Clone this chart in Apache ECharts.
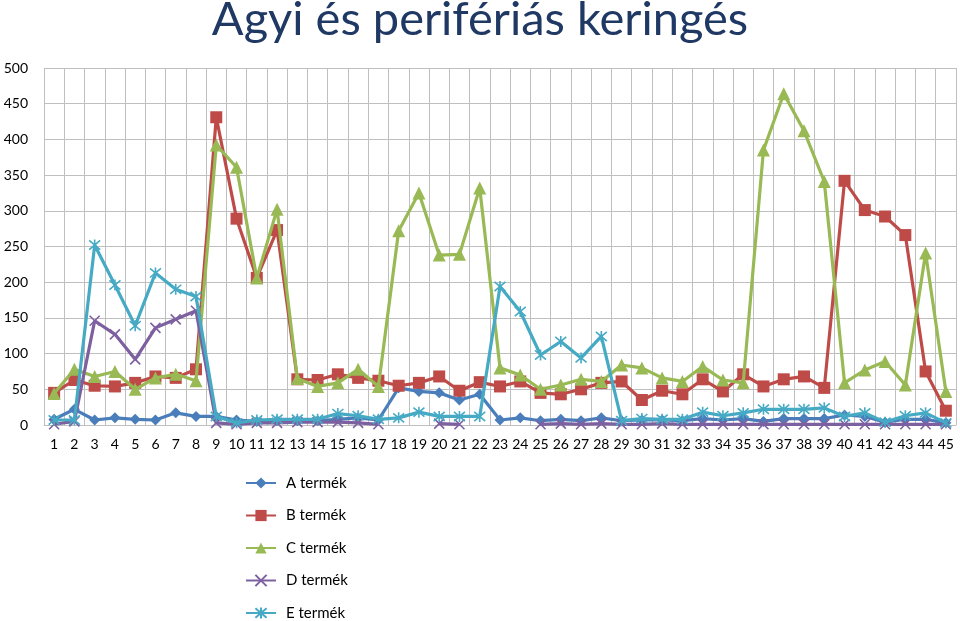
<!DOCTYPE html>
<html>
<head>
<meta charset="utf-8">
<script src="https://cdn.jsdelivr.net/npm/echarts@6/dist/echarts.min.js"></script>
<style>
html,body{margin:0;padding:0;background:#fff;}
#chart{width:960px;height:621px;}
</style>
</head>
<body>
<div id="chart"></div>
<script>
var categories = [];
for (var i = 1; i <= 45; i++) categories.push(String(i));

var seriesNames = ['A termék', 'B termék', 'C termék', 'D termék', 'E termék'];

var dataA = [8, 22, 7, 10, 8, 7, 17, 12, 12, 7, 5, 6, 6, 6, 8, 10, 7, 52, 47, 45, 35, 43, 7, 10, 6, 8, 6, 10, 6, 7, 7, 6, 9, 7, 9, 5, 9, 9, 9, 14, 12, 4, 8, 8, 3];
var dataB = [45, 63, 55, 54, 59, 68, 66, 78, 431, 289, 206, 273, 64, 63, 71, 66, 62, 55, 59, 68, 48, 60, 54, 61, 45, 43, 50, 59, 61, 35, 48, 43, 64, 47, 71, 54, 64, 68, 52, 342, 301, 292, 266, 75, 20];
var dataC = [44, 78, 68, 75, 50, 66, 71, 62, 392, 361, 206, 302, 65, 54, 59, 78, 54, 272, 325, 238, 239, 332, 80, 70, 50, 56, 64, 61, 84, 80, 66, 61, 82, 63, 59, 385, 464, 412, 341, 59, 77, 89, 56, 241, 47];
var dataD = [1, 5, 146, 127, 92, 136, 148, 160, 3, 1, 3, 3, 4, 4, 4, 3, 1, null, null, 2, 1, null, null, null, 1, 2, 1, 2, 1, 1, 2, 1, 1, 1, 1, 1, 1, 1, 1, 1, 1, 1, 1, 1, 1];
var dataE = [7, 7, 252, 196, 139, 213, 190, 180, 12, 3, 7, 8, 8, 8, 16, 13, 8, 10, 18, 12, 12, 12, 194, 159, 98, 117, 94, 124, 6, 9, 8, 8, 18, 13, 17, 22, 22, 22, 24, 12, 17, 4, 13, 17, 3];

var yMin = 0, yMax = 500, yStep = 50;

var colors = ['#4A7EBB', '#BE4B48', '#98B954', '#7D60A0', '#46AAC5'];
var xPath = 'path://M0,0 L10,10 M10,0 L0,10';
var starPath = 'path://M0,0 L10,10 M10,0 L0,10 M5,-1 L5,11';
var symbols = ['diamond', 'rect', 'triangle', xPath, starPath];
var symbolSizes = [11, 12, 13, 10, 11];
var allData = [dataA, dataB, dataC, dataD, dataE];

var series = seriesNames.map(function (name, k) {
  var isPath = k >= 3;
  return {
    name: name,
    type: 'line',
    data: allData[k],
    symbol: symbols[k],
    symbolSize: symbolSizes[k],
    showAllSymbol: true,
    connectNulls: false,
    lineStyle: { color: colors[k], width: 3.2 },
    itemStyle: isPath ? { color: colors[k], borderColor: colors[k], borderWidth: 1.6 } : { color: colors[k], borderWidth: 0 },
    emphasis: { disabled: true },
    z: 2 + k
  };
});

var chart = echarts.init(document.getElementById('chart'), null, { renderer: 'canvas' });
chart.setOption({
  animation: false,
  backgroundColor: '#ffffff',
  title: {
    text: 'Agyi és perifériás keringés',
    left: 'center',
    top: -9,
    textStyle: { fontFamily: 'Lato', fontSize: 47, fontWeight: 'normal', color: '#1F3864' }
  },
  legend: {
    orient: 'vertical',
    left: 245,
    top: 475,
    padding: 0,
    itemWidth: 30,
    itemHeight: 14,
    itemGap: 16.5,
    textStyle: { fontFamily: 'Lato', fontSize: 15, color: '#000', lineHeight: 16, padding: [0, 0, 0, 5] },
    data: seriesNames
  },
  grid: { left: 44, right: 4, top: 68, bottom: 196, containLabel: false },
  xAxis: {
    type: 'category',
    data: categories,
    boundaryGap: true,
    axisLine: { show: true, lineStyle: { color: '#BFBFBF' } },
    axisTick: { show: false },
    splitLine: { show: true, lineStyle: { color: '#BFBFBF', width: 1 } },
    axisLabel: { interval: 0, fontFamily: 'Lato', fontSize: 14, color: '#000', margin: 12 }
  },
  yAxis: {
    type: 'value',
    min: yMin,
    max: yMax,
    interval: yStep,
    axisLine: { show: false },
    axisTick: { show: false },
    splitLine: { show: true, lineStyle: { color: '#BFBFBF', width: 1 } },
    axisLabel: { fontFamily: 'Lato', fontSize: 14, color: '#000', margin: 16 }
  },
  series: series
});
</script>
</body>
</html>
